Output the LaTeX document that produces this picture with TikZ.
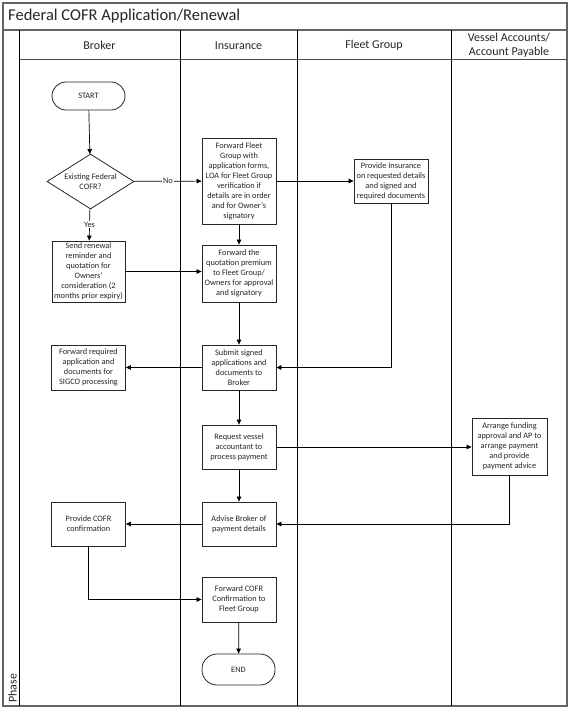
\documentclass[tikz,border=0pt]{standalone}
\usepackage{fontspec}
\setmainfont{Carlito}
\usetikzlibrary{shapes.geometric,arrows.meta}
\begin{document}
\begin{tikzpicture}[x=1pt,y=-1pt,
  box/.style={draw=black!85, line width=0.8pt, fill=white, align=center,
    font=\fontsize{8.3}{10}\selectfont, inner sep=1pt, minimum width=74pt, text=black!85},
  term/.style={box, rounded corners=14pt},
  dec/.style={draw=black!85, line width=0.8pt, fill=white, align=center, diamond, aspect=1.6,
    inner sep=0pt, minimum width=87pt, minimum height=55pt, font=\fontsize{8.3}{10}\selectfont, text=black!85},
  conn/.style={draw=black, line width=0.7pt, -{Triangle[length=5pt,width=4.5pt]}},
  lbl/.style={fill=white, inner sep=1pt, font=\fontsize{8.3}{10}\selectfont, text=black!85},
  head/.style={font=\fontsize{12}{13.5}\selectfont, align=center, text=black!85},
  lane/.style={draw=black, line width=1pt},
  frame/.style={draw=black!60, line width=1.3pt}
]
\useasboundingbox (0,0) rectangle (569,711);
\fill[white] (0,0) rectangle (569,711);

% frame and lanes
\draw[frame] (3,3) rectangle (567,706);
\draw[frame] (3,30) -- (567,30);
\draw[draw=black!70, line width=1pt] (19,60) -- (567,60);
\draw[lane] (19,30) -- (19,706);
\draw[lane] (180,30) -- (180,706);
\draw[lane] (297,30) -- (297,706);
\draw[lane] (451,30) -- (451,706);

\node[anchor=base west, font=\fontsize{16.5}{18}\selectfont, inner sep=0pt, text=black!85] (title) at (8,21) {Federal COFR Application/Renewal};
\node[head] (hb) at (99.5,45.5) {Broker};
\node[head] (hi) at (238.5,45.5) {Insurance};
\node[head] (hf) at (374,45.5) {Fleet Group};
\node[head] (hv) at (509,45.5) {Vessel Accounts/\\Account Payable};
\node[rotate=90, anchor=west, inner sep=0pt, font=\fontsize{12}{13}\selectfont, text=black!85] (phase) at (12.5,703) {Phase};

% nodes
\node[term, minimum width=73pt, minimum height=28pt] (start) at (88.5,96) {START};
\node[dec] (d) at (90.5,181.5) {Existing Federal\\COFR?};
\node[box, minimum width=73pt, minimum height=61pt] (send) at (88.5,271.5) {Send renewal\\reminder and\\quotation for\\Owners'\\consideration (2\\months prior expiry)};
\node[box, minimum height=86pt] (ffg) at (239,181) {Forward Fleet\\Group with\\application forms,\\LOA for Fleet Group\\verification if\\details are in order\\and for Owner's\\signatory};
\node[box, minimum height=57pt] (fq) at (239,273.5) {Forward the\\quotation premium\\to Fleet Group/\\Owners for approval\\and signatory};
\node[box, minimum height=44pt] (pi) at (391,181) {Provide Insurance\\on requested details\\and signed and\\required documents};
\node[box, minimum height=45pt] (fr) at (88.5,367.5) {Forward required\\application and\\documents for\\SIGCO processing};
\node[box, minimum height=45pt] (sub) at (239,367.5) {Submit signed\\applications and\\documents to\\Broker};
\node[box, minimum height=44pt] (req) at (239,447) {Request vessel\\accountant to\\process payment};
\node[box, minimum width=75pt, minimum height=57pt] (arr) at (509.5,446.5) {Arrange funding\\approval and AP to\\arrange payment\\and provide\\payment advice};
\node[box, minimum height=44pt] (pc) at (88.5,524) {Provide COFR\\confirmation};
\node[box, minimum height=44pt] (adv) at (239,524) {Advise Broker of\\payment details};
\node[box, minimum height=45pt] (fc) at (239,599.5) {Forward COFR\\Confirmation to\\Fleet Group};
\node[term, minimum width=73pt, minimum height=31pt, rounded corners=15pt] (end) at (238.5,669.5) {END};

% connectors
\draw[conn] (start) -- (d);
\draw[conn] (d) -- node[lbl] (yes) {Yes} (send);
\draw[conn] (d) -- node[lbl] (no) {No} (ffg);
\draw[conn] (ffg) -- (pi);
\draw[conn] (ffg) -- (fq);
\draw[conn] (send.east) -- (send.east -| fq.west);
\draw[conn] (fq) -- (sub);
\draw[conn] (pi) |- (sub);
\draw[conn] (sub) -- (fr);
\draw[conn] (sub) -- (req);
\draw[conn] (req) -- (req -| arr.west);
\draw[conn] (req) -- (adv);
\draw[conn] (arr) |- (adv);
\draw[conn] (adv) -- (pc);
\draw[conn] (pc) |- (fc);
\draw[conn] (fc) -- (end);
\end{tikzpicture}
\end{document}
